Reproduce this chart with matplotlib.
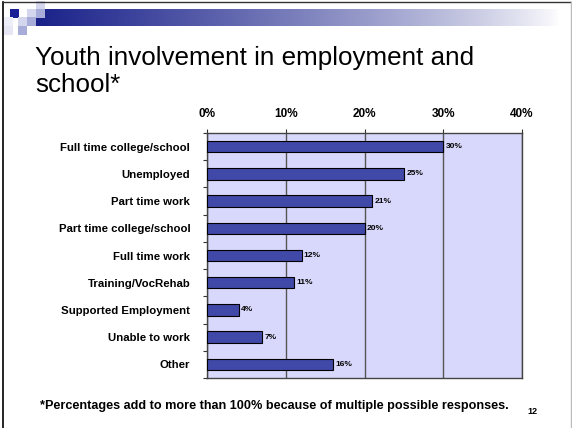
import matplotlib
matplotlib.use("Agg")
import matplotlib.pyplot as plt
import numpy as np
from matplotlib.patches import Rectangle
from matplotlib.lines import Line2D
from matplotlib.ticker import FixedLocator

categories = ["Full time college/school", "Unemployed", "Part time work",
              "Part time college/school", "Full time work", "Training/VocRehab",
              "Supported Employment", "Unable to work", "Other"]
values = [30, 25, 21, 20, 12, 11, 4, 7, 16]
xticks = [0, 10, 20, 30, 40]
title_lines = ["Youth involvement in employment and", "school*"]
footnote = "*Percentages add to more than 100% because of multiple possible responses."
page = "12"

plt.rcParams['font.family'] = ['Liberation Sans', 'DejaVu Sans']

W, H = 572, 428
fig = plt.figure(figsize=(W / 100, H / 100), dpi=100)
fig.patch.set_facecolor("white")

def fx(x):
    return x / W

def fy(y):
    return 1 - y / H

# slide border
fig.add_artist(Line2D([fx(3), fx(3)], [fy(2), fy(428)], color="black", lw=1.2))
fig.add_artist(Line2D([fx(3), fx(571)], [fy(2), fy(2)], color="#333333", lw=1.0))
fig.add_artist(Line2D([fx(570.5), fx(570.5)], [fy(2), fy(428)], color="#bbbbbb", lw=1.0))

# header gradient
gax = fig.add_axes([fx(36), fy(26), fx(560) - fx(36), fy(9) - fy(26)])
grad = np.linspace(0, 1, 256)
c0 = np.array([0x1a, 0x22, 0x8a]) / 255
c1 = np.array([1.0, 1.0, 1.0])
g = (1 - grad[:, None]) ** 0.8
img = c0[None, :] * g + c1[None, :] * (1 - g)
gax.imshow(img[None, :, :], aspect="auto", extent=[0, 1, 0, 1])
gax.axis("off")

# decorative squares
squares = [
    (10, 9, "#1a1f96"), (27, 9, "#d4d6ee"), (36, 1, "#d4d6ee"), (36, 9, "#a8acd8"),
    (18, 17, "#d4d6ee"), (27, 17, "#a8acd8"), (18, 26, "#a8acd8"), (4, 17, "#eeeef8"),
    (4, 26, "#e6e6f4"),
]
for x, y, c in squares:
    fig.add_artist(Rectangle((fx(x), fy(y + 8.5)), 8.5 / W, 8.5 / H,
                             transform=fig.transFigure, facecolor=c, edgecolor="none"))

# title
fig.text(fx(35), fy(65), title_lines[0], fontsize=18.7, ha="left", va="baseline", color="black")
fig.text(fx(35), fy(92), title_lines[1], fontsize=18.7, ha="left", va="baseline", color="black")

# chart
ax = fig.add_axes([fx(207), fy(378), fx(522) - fx(207), fy(133) - fy(378)])
ax.set_facecolor("#d8d8fc")
y = np.arange(len(categories))
ax.barh(y, values, height=0.42, color="#4048a8", edgecolor="black", linewidth=0.8, zorder=3)
ax.set_xlim(0, 40)
ax.set_ylim(len(categories) - 0.5, -0.5)
ax.xaxis.tick_top()
ax.set_xticks(xticks)
ax.set_xticklabels([f"{t}%" for t in xticks], fontsize=8.5, fontweight="bold")
ax.tick_params(axis="x", length=3, width=0.8, pad=6.5, color="#333333")
ax.set_yticks(y)
ax.set_yticklabels(categories, fontsize=8.2, fontweight="bold")
ax.tick_params(axis="y", which="major", length=0, pad=12)
ax.yaxis.set_minor_locator(FixedLocator(np.arange(-0.5, len(categories), 1)))
ax.tick_params(axis="y", which="minor", length=3, width=0.8, color="#333333")
ax.grid(axis="x", color="#555555", lw=1.0, zorder=1)
for s in ax.spines.values():
    s.set_color("#444444")
    s.set_linewidth(1.0)
for yi, v in zip(y, values):
    ax.text(v + 0.3, yi, f"{v}%", fontsize=6, fontweight="bold", va="center", ha="left", zorder=4)

# footnote
fig.text(fx(40), fy(406), footnote, fontsize=9.1, fontweight="bold", ha="left", va="center")
fig.text(fx(527), fy(411), page, fontsize=6.5, fontweight="bold", ha="left", va="center")

fig.savefig("out.png", dpi=100, facecolor="white")
